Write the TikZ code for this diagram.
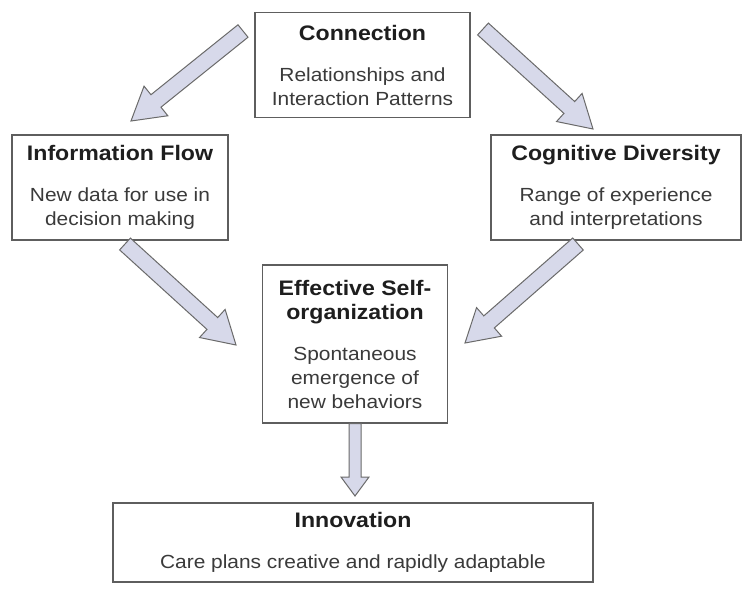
\documentclass[tikz,border=0pt]{standalone}
\usepackage{fontspec}
\setmainfont{Liberation Sans}[FakeStretch=1.1]
\usetikzlibrary{calc}
\definecolor{boxline}{HTML}{5E5E5E}
\definecolor{arrfill}{HTML}{D7D9EA}
\definecolor{arrline}{HTML}{6A6A6A}
\definecolor{titlecol}{HTML}{1E1E1E}
\definecolor{subcol}{HTML}{3A3A3A}
\newcommand\tfont{\fontsize{21}{25}\selectfont\bfseries\color{titlecol}}
\newcommand\sfnt{\fontsize{19}{24}\selectfont\color{subcol}}
\newcommand\fatarrow[6]{%
  \coordinate (#1-h) at ($(#3)!#6!(#2)$);
  \draw[bigarrow] ($(#2)!#4!90:(#3)$) -- ($(#1-h)!#4!90:(#3)$) -- ($(#1-h)!#5!90:(#3)$) -- (#3)
    -- ($(#1-h)!#5!-90:(#3)$) -- ($(#1-h)!#4!-90:(#3)$) -- ($(#2)!#4!-90:(#3)$) -- cycle;}
\tikzset{
  infobox/.style={draw=boxline, line width=1.1pt, fill=white, align=center, inner sep=0pt,
    font=\sfnt},
  bigarrow/.style={draw=arrline, fill=arrfill, line width=1pt, line join=miter},
}
\begin{document}
\begin{tikzpicture}[x=1pt,y=-1pt]
\fill[white] (0,0) rectangle (752,589);
\useasboundingbox (0,0) rectangle (752,589);

\node[infobox, minimum width=215pt, minimum height=105pt] (conn) at (362.5,65)
  {{\tfont Connection}\\[17pt]Relationships and\\Interaction Patterns};
\node[infobox, minimum width=216pt, minimum height=105pt] (info) at (120,187.5)
  {{\tfont Information Flow}\\[17pt]New data for use in\\decision making};
\node[infobox, minimum width=250pt, minimum height=105pt] (cog) at (616,187.5)
  {{\tfont Cognitive Diversity}\\[17pt]Range of experience\\and interpretations};
\node[infobox, minimum width=185pt, minimum height=158pt] (eff) at (355,344)
  {{\tfont Effective Self-}\\{\tfont organization}\\[17pt]Spontaneous\\emergence of\\new behaviors};
\node[infobox, minimum width=480pt, minimum height=79pt] (inno) at (353,542.5)
  {{\tfont Innovation}\\[17pt]Care plans creative and rapidly adaptable};

\coordinate (a1s) at (243,31);  \coordinate (a1e) at (131,121);
\coordinate (a2s) at (483,29);  \coordinate (a2e) at (593,129);
\coordinate (a3s) at (125,244); \coordinate (a3e) at (236,345);
\coordinate (a4s) at (578,244); \coordinate (a4e) at (465,343);
\coordinate (a5s) at (eff.south); \coordinate (a5e) at (355,496);

\fatarrow{a1}{a1s}{a1e}{8pt}{19pt}{32pt}
\fatarrow{a2}{a2s}{a2e}{8pt}{19pt}{32pt}
\fatarrow{a3}{a3s}{a3e}{8pt}{19pt}{32pt}
\fatarrow{a4}{a4s}{a4e}{8pt}{19pt}{32pt}
\fatarrow{a5}{a5s}{a5e}{6pt}{14pt}{19pt}
\end{tikzpicture}
\end{document}
